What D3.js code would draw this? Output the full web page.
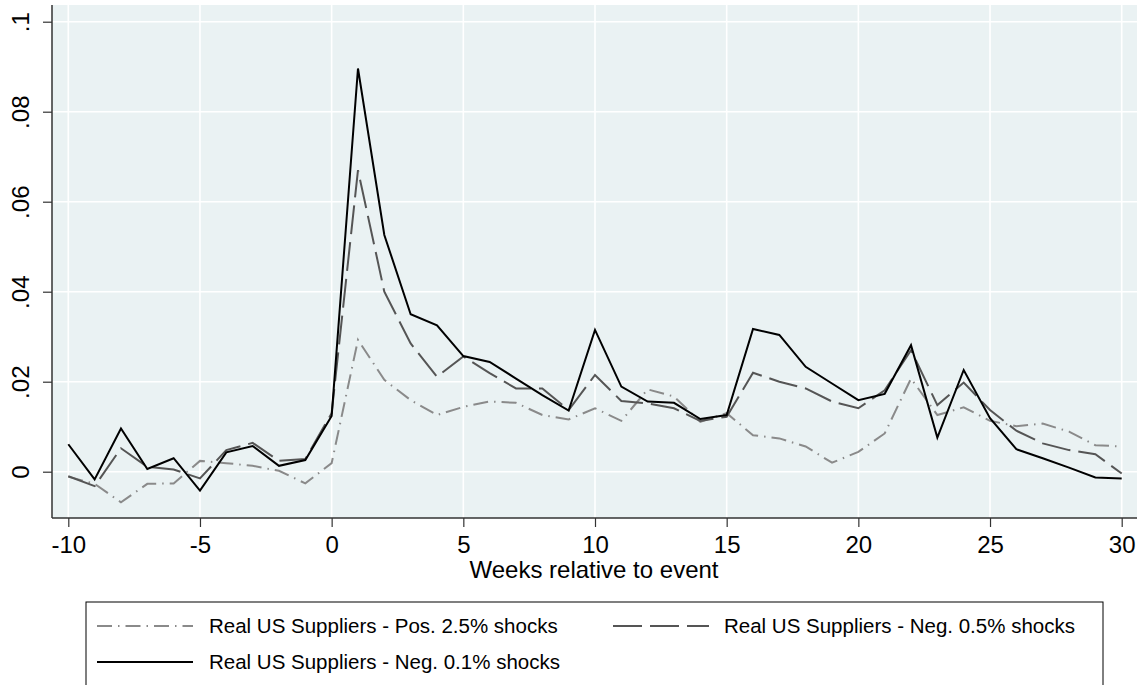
<!DOCTYPE html>
<html>
<head>
<meta charset="utf-8">
<style>
  * { margin:0; padding:0 }
  body { background:#fff; overflow:hidden; }
  svg text { font-family: "Liberation Sans", Arial, sans-serif; fill:#000; }
</style>
<script src="https://cdn.jsdelivr.net/npm/d3@7"></script>
</head>
<body>
<script>
// data
var weeks = [-10,-9,-8,-7,-6,-5,-4,-3,-2,-1,0,1,2,3,4,5,6,7,8,9,10,
             11,12,13,14,15,16,17,18,19,20,21,22,23,24,25,26,27,28,29,30];

var pos25 = [-0.0011,-0.0027,-0.0068,-0.0027,-0.0026,0.0024,0.0019,0.0013,0.0002,-0.0026,0.0019,
             0.0293,0.0204,0.0159,0.0126,0.0144,0.0156,0.0153,0.0126,0.0116,0.0141,
             0.0113,0.0183,0.0167,0.0111,0.0130,0.0081,0.0074,0.0056,0.0020,0.0044,
             0.0085,0.0207,0.0126,0.0143,0.0113,0.0101,0.0107,0.0089,0.0059,0.0056];

var neg05 = [-0.0010,-0.0032,0.0052,0.0011,0.0005,-0.0015,0.0048,0.0064,0.0024,0.0028,0.0130,
             0.0670,0.0400,0.0285,0.0211,0.0256,0.0219,0.0185,0.0185,0.0137,0.0215,
             0.0157,0.0152,0.0141,0.0113,0.0122,0.0220,0.0200,0.0185,0.0156,0.0141,
             0.0181,0.0270,0.0148,0.0198,0.0137,0.0091,0.0063,0.0048,0.0039,-0.0004];

var neg01 = [0.0061,-0.0017,0.0096,0.0006,0.0030,-0.0042,0.0043,0.0057,0.0013,0.0026,0.0124,
             0.0896,0.0526,0.0350,0.0325,0.0257,0.0244,0.0207,0.0170,0.0136,0.0315,
             0.0189,0.0156,0.0153,0.0117,0.0126,0.0317,0.0304,0.0233,0.0196,0.0159,
             0.0173,0.0281,0.0076,0.0226,0.0119,0.0050,0.0030,0.0009,-0.0013,-0.0015];

var xTicks = [-10,-5,0,5,10,15,20,25,30];
var xTickLabels = ["-10","-5","0","5","10","15","20","25","30"];
var yTicks = [0,0.02,0.04,0.06,0.08,0.1];
var yTickLabels = ["0",".02",".04",".06",".08",".1"];

var seriesNames = ["Real US Suppliers - Pos. 2.5% shocks",
                   "Real US Suppliers - Neg. 0.5% shocks",
                   "Real US Suppliers - Neg. 0.1% shocks"];

var width = 1141, height = 685;
var plot = {left:52, right:1137, top:5, bottom:518};
var fontBig = "24px", fontLeg = "20.5px";

var x = d3.scaleLinear().domain([-10,30]).range([68.3,1121.7]);
var y = d3.scaleLinear().domain([0,0.1]).range([471.7,21.7]);

var svg = d3.select("body").append("svg")
    .attr("width", width)
    .attr("height", height);

// plot region
svg.append("rect")
    .attr("x", plot.left).attr("y", plot.top)
    .attr("width", plot.right - plot.left)
    .attr("height", plot.bottom - plot.top)
    .attr("fill", "#eaf2f3");

// grid
svg.append("g").selectAll("line")
    .data(yTicks).enter().append("line")
    .attr("x1", plot.left).attr("x2", plot.right)
    .attr("y1", function(d){ return y(d); })
    .attr("y2", function(d){ return y(d); })
    .attr("stroke", "#fff").attr("stroke-width", 1.6);

svg.append("g").selectAll("line")
    .data(xTicks).enter().append("line")
    .attr("y1", plot.top).attr("y2", plot.bottom)
    .attr("x1", function(d){ return x(d); })
    .attr("x2", function(d){ return x(d); })
    .attr("stroke", "#fff").attr("stroke-width", 1.6);

// lines
var series = [
  {vals: pos25, color:"#8a8a8a", dash:"15,6,1.5,6", w:2},
  {vals: neg05, color:"#555555", dash:"29,8", w:2},
  {vals: neg01, color:"#000000", dash:null, w:2}
];

var line = d3.line()
    .x(function(d){ return x(d[0]); })
    .y(function(d){ return y(d[1]); });

series.forEach(function(s) {
  svg.append("path")
    .datum(weeks.map(function(w, i){ return [w, s.vals[i]]; }))
    .attr("d", line)
    .attr("fill", "none")
    .attr("stroke", s.color)
    .attr("stroke-width", s.w)
    .attr("stroke-linejoin", "miter")
    .attr("stroke-dasharray", s.dash);
});

// x axis
var xAxis = d3.axisBottom(x).tickValues(xTicks).tickSize(9).tickSizeOuter(0).tickPadding(9)
    .tickFormat(function(d, i){ return xTickLabels[i]; });
var gx = svg.append("g").attr("transform", "translate(0," + plot.bottom + ")").call(xAxis);
gx.select(".domain").attr("d", "M" + plot.left + ",0H" + plot.right)
    .attr("stroke", "#333").attr("stroke-width", 1.5);
gx.selectAll(".tick line").attr("stroke", "#333").attr("stroke-width", 1.2);
gx.selectAll(".tick text")
    .style("font-size", fontBig)
    .style("font-family", "Liberation Sans, Arial, sans-serif")
    .attr("fill", "#000");

// y axis
var yAxis = d3.axisLeft(y).tickValues(yTicks).tickSize(9).tickSizeOuter(0)
    .tickFormat(function(d, i){ return yTickLabels[i]; });
var gy = svg.append("g").attr("transform", "translate(" + plot.left + ",0)").call(yAxis);
gy.select(".domain").attr("d", "M0," + plot.top + "V" + plot.bottom)
    .attr("stroke", "#333").attr("stroke-width", 1.5);
gy.selectAll(".tick line").attr("stroke", "#333").attr("stroke-width", 1.2);
gy.selectAll(".tick text")
    .attr("x", null).attr("dy", null)
    .attr("text-anchor", "middle")
    .attr("transform", "translate(-23,0) rotate(-90)")
    .style("font-size", fontBig)
    .style("font-family", "Liberation Sans, Arial, sans-serif")
    .attr("fill", "#000");

// axis title
svg.append("text")
    .attr("x", 594)
    .attr("y", 578)
    .attr("text-anchor", "middle")
    .style("font-size", fontBig)
    .text("Weeks relative to event");

// legend
var leg = svg.append("g");
leg.append("rect")
    .attr("x", 86).attr("y", 602)
    .attr("width", 1017).attr("height", 120)
    .attr("fill", "#fff").attr("stroke", "#000").attr("stroke-width", 1);

var legPos = [
  {sx:97, tx:209, y:626},
  {sx:613, tx:724, y:626},
  {sx:97, tx:209, y:662}
];

series.forEach(function(s, i) {
  var p = legPos[i];
  leg.append("line")
    .attr("x1", p.sx).attr("x2", p.sx + 96)
    .attr("y1", p.y).attr("y2", p.y)
    .attr("stroke", s.color)
    .attr("stroke-width", s.w)
    .attr("stroke-dasharray", s.dash);
  leg.append("text")
    .attr("x", p.tx).attr("y", p.y + 7)
    .style("font-size", fontLeg)
    .text(seriesNames[i]);
});
</script>
</body>
</html>
